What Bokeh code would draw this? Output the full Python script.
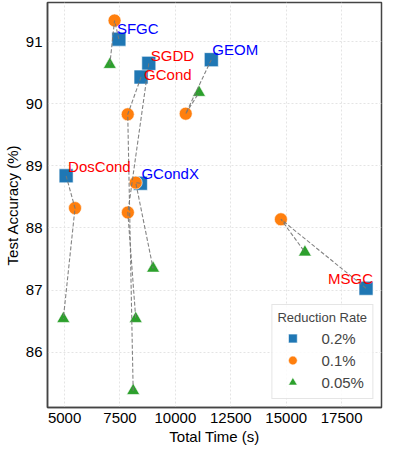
from bokeh.plotting import figure
from bokeh.models import ColumnDataSource, Legend, LegendItem, FixedTicker, Range1d
from bokeh.core.properties import value
from bokeh.embed import file_html
from bokeh.resources import INLINE

# ---- data ----
methods = ["SFGC", "SGDD", "GCond", "GEOM", "DosCond", "GCondX", "MSGC"]
label_colors = ["blue", "red", "red", "blue", "red", "blue", "red"]

time_02 = [7450, 8800, 8450, 11620, 5070, 8420, 18600]
acc_02 = [91.04, 90.65, 90.43, 90.71, 88.84, 88.72, 87.03]

time_01 = [7255, 7855, 7850, 10466, 5471, 8211, 14760]
acc_01 = [91.34, 88.25, 89.83, 89.84, 88.32, 88.73, 88.14]

time_005 = [7041, 8211, 8095, 11066, 4944, 8994, 15843]
acc_005 = [90.63, 86.54, 85.38, 90.18, 86.54, 87.35, 87.61]

rate_labels = ["0.2%", "0.1%", "0.05%"]
x_ticks = [5000, 7500, 10000, 12500, 15000, 17500]
y_ticks = [86, 87, 88, 89, 90, 91]

# ---- styling (label offsets in screen px) ----
lab_dx = [-2, 2, 3, 1, 2, 1, -38]
lab_dy = [-11, -8, -3, -10, -9, -10, -10]

FONT = "Liberation Sans"

p = figure(width=383, height=447, output_backend="svg", toolbar_location=None,
           x_range=Range1d(4230, 19298), y_range=Range1d(85.11, 91.63),
           x_axis_label="Total Time (s)", y_axis_label="Test Accuracy (%)",
           min_border_left=0, min_border_right=2, min_border_top=2, min_border_bottom=0)

p.background_fill_color = "white"
p.border_fill_color = "white"
p.outline_line_color = "#444444"
p.outline_line_width = 1.5

for ax in (p.xaxis, p.yaxis):
    ax.axis_line_color = "#444444"
    ax.axis_line_width = 1.5
    ax.major_tick_line_color = None
    ax.minor_tick_line_color = None
    ax.major_tick_out = 0
    ax.major_tick_in = 0
    ax.minor_tick_out = 0
    ax.major_label_text_font = FONT
    ax.major_label_text_font_size = "15px"
    ax.major_label_text_color = "black"
    ax.axis_label_text_font = FONT
    ax.axis_label_text_font_size = "15px"
    ax.axis_label_text_font_style = "normal"
    ax.axis_label_text_color = "black"
    ax.major_label_standoff = 5
    ax.axis_label_standoff = 2

p.xaxis.ticker = FixedTicker(ticks=x_ticks)
p.yaxis.ticker = FixedTicker(ticks=y_ticks)

p.grid.grid_line_color = "#e4e4e4"
p.grid.grid_line_dash = "2 2"
p.grid.grid_line_width = 1

src = ColumnDataSource(dict(
    m=methods, c=label_colors,
    t02=time_02, a02=acc_02, t01=time_01, a01=acc_01, t005=time_005, a005=acc_005,
    dx=lab_dx, dy=lab_dy,
))

r_sq = p.scatter("t02", "a02", source=src, marker="square", size=14,
                 fill_color="#1f77b4", line_color="white", line_width=0.6)
r_ci = p.scatter("t01", "a01", source=src, marker="circle", size=13,
                 fill_color="#ff7f0e", line_color="white", line_width=0.6)
r_tr = p.scatter("t005", "a005", source=src, marker="triangle", size=13,
                 fill_color="#2ca02c", line_color="white", line_width=0.6)

xs = [[a, b, c] for a, b, c in zip(time_02, time_01, time_005)]
ys = [[a, b, c] for a, b, c in zip(acc_02, acc_01, acc_005)]
p.multi_line(xs=xs, ys=ys, line_color="#777777", line_dash="4 2", line_width=1.1,
             line_alpha=0.9)

p.text(x="t02", y="a02", text="m", source=src, text_color="c",
       x_offset="dx", y_offset="dy", text_font=value(FONT), text_font_size="15px",
       text_align="left", text_baseline="middle")

legend = Legend(items=[
    LegendItem(label=rate_labels[0], renderers=[r_sq]),
    LegendItem(label=rate_labels[1], renderers=[r_ci]),
    LegendItem(label=rate_labels[2], renderers=[r_tr]),
], location="bottom_right")
legend.title = "Reduction Rate"
legend.title_text_font = FONT
legend.title_text_font_size = "13px"
legend.title_text_font_style = "normal"
legend.title_standoff = 2
legend.label_text_font = FONT
legend.label_text_font_size = "15px"
legend.glyph_width = 30
legend.glyph_height = 22
legend.label_height = 20
legend.spacing = 0
legend.label_standoff = 14
legend.padding = 5
legend.margin = 8
legend.border_line_color = "#cccccc"
legend.border_line_width = 1
legend.background_fill_alpha = 0.85
p.add_layout(legend, "center")

open("out.html", "w").write(file_html(p, INLINE))
